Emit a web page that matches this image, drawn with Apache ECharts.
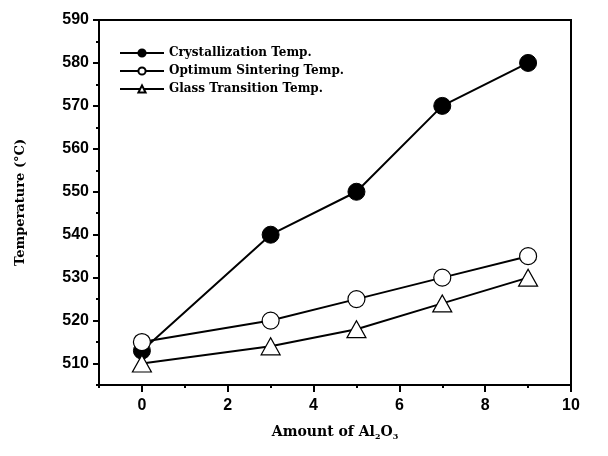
<!DOCTYPE html>
<html><head><meta charset="utf-8">
<script src="https://cdn.jsdelivr.net/npm/echarts@6/dist/echarts.min.js"></script>
<style>html,body{margin:0;padding:0;background:#fff}#c{width:608px;height:456px}</style>
</head><body><div id="c"></div>
<script>
const xValues = [0, 3, 5, 7, 9];
const crystallization = [513, 540, 550, 570, 580];
const optimumSintering = [515, 520, 525, 530, 535];
const glassTransition = [510, 514, 518, 524, 530];
const xMajorTicks = [0, 2, 4, 6, 8, 10];
const yMajorTicks = [510, 520, 530, 540, 550, 560, 570, 580, 590];
const seriesNames = ['Crystallization Temp.', 'Optimum Sintering Temp.', 'Glass Transition Temp.'];

const pair = (xs, ys) => xs.map((x, i) => [x, ys[i]]);
const chart = echarts.init(document.getElementById('c'));
const labelFont = {fontFamily: 'Liberation Sans', fontWeight: 'bold', fontSize: 16, color: '#000'};
const serifBold = {fontFamily: 'DejaVu Serif', fontWeight: 'bold', color: '#000'};

chart.setOption({
  animation: false,
  backgroundColor: '#fff',
  grid: {left: 99, right: 37, top: 20, bottom: 71, show: true, borderColor: '#000', borderWidth: 2, backgroundColor: 'transparent'},
  legend: {
    left: 114, top: 42, orient: 'vertical', itemGap: 6, itemWidth: 44, itemHeight: 9,
    textStyle: Object.assign({fontSize: 12}, serifBold),
    data: seriesNames
  },
  xAxis: [{
    type: 'value', min: -1, max: 10, position: 'bottom',
    axisLine: {onZero: false, lineStyle: {color: '#000', width: 2}},
    axisTick: {customValues: xMajorTicks, length: 7, lineStyle: {width: 2, color: '#000'}},
    axisLabel: Object.assign({customValues: xMajorTicks, margin: 13}, labelFont),
    splitLine: {show: false},
    name: '{a|Amount of Al}{s|2}{a|O}{s|3}', nameLocation: 'middle', nameGap: 38,
    nameTextStyle: {rich: {
      a: Object.assign({fontSize: 14, lineHeight: 18}, serifBold),
      s: Object.assign({fontSize: 8, lineHeight: 18, verticalAlign: 'bottom', padding: [9, 0, 0, 0]}, serifBold)
    }}
  }, {
    type: 'value', min: -1, max: 10, interval: 1, position: 'bottom',
    axisLine: {show: false, onZero: false},
    axisTick: {length: 3, lineStyle: {width: 2, color: '#000'}},
    axisLabel: {show: false}, splitLine: {show: false}
  }],
  yAxis: [{
    type: 'value', min: 505, max: 590, position: 'left',
    axisLine: {show: true, onZero: false, lineStyle: {color: '#000', width: 2}},
    axisTick: {show: true, customValues: yMajorTicks, length: 6, lineStyle: {width: 2, color: '#000'}},
    axisLabel: Object.assign({customValues: yMajorTicks, margin: 10}, labelFont),
    splitLine: {show: false},
    name: 'Temperature (°C)', nameLocation: 'middle', nameGap: 72,
    nameTextStyle: Object.assign({fontSize: 13}, serifBold)
  }, {
    type: 'value', min: 505, max: 590, interval: 5, position: 'left',
    axisLine: {show: false, onZero: false},
    axisTick: {show: true, length: 3, lineStyle: {width: 2, color: '#000'}},
    axisLabel: {show: false}, splitLine: {show: false}
  }],
  series: [{
    name: seriesNames[0], type: 'line', data: pair(xValues, crystallization),
    symbol: 'circle', symbolSize: 17, z: 2,
    lineStyle: {color: '#000', width: 2},
    itemStyle: {color: '#000', borderColor: '#000', borderWidth: 1}
  }, {
    name: seriesNames[2], type: 'line', data: pair(xValues, glassTransition),
    symbol: 'triangle', symbolSize: [19, 17], z: 3,
    lineStyle: {color: '#000', width: 2},
    itemStyle: {color: '#fff', borderColor: '#000', borderWidth: 1.2}
  }, {
    name: seriesNames[1], type: 'line', data: pair(xValues, optimumSintering),
    symbol: 'circle', symbolSize: 17, z: 4,
    lineStyle: {color: '#000', width: 2},
    itemStyle: {color: '#fff', borderColor: '#000', borderWidth: 1.2}
  }]
});
</script>
</body></html>
